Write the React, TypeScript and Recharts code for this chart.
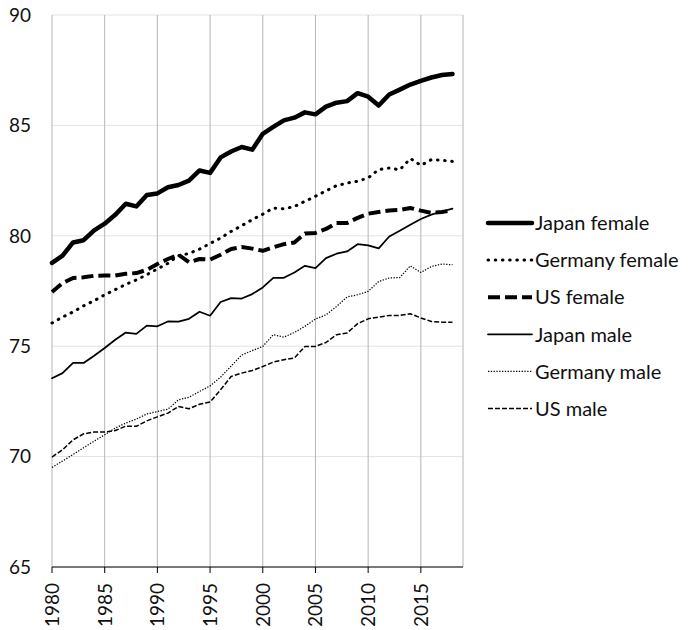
import React from 'react';
import { LineChart, Line, XAxis, YAxis, CartesianGrid } from 'recharts';

// Life expectancy at birth, 1980-2018
const years = [
  1980, 1981, 1982, 1983, 1984, 1985, 1986, 1987, 1988, 1989,
  1990, 1991, 1992, 1993, 1994, 1995, 1996, 1997, 1998, 1999,
  2000, 2001, 2002, 2003, 2004, 2005, 2006, 2007, 2008, 2009,
  2010, 2011, 2012, 2013, 2014, 2015, 2016, 2017, 2018,
];

const japanFemale = [
  78.77, 79.1, 79.7, 79.8, 80.25, 80.55, 80.95, 81.45, 81.33, 81.85,
  81.92, 82.2, 82.3, 82.5, 82.96, 82.85, 83.55, 83.82, 84.02, 83.9,
  84.62, 84.93, 85.23, 85.35, 85.59, 85.5, 85.85, 86.03, 86.1, 86.46,
  86.3, 85.9, 86.4, 86.62, 86.85, 87.02, 87.17, 87.28, 87.33,
];

const germanyFemale = [
  76.05, 76.32, 76.55, 76.83, 77.06, 77.33, 77.56, 77.8, 78.0, 78.24,
  78.5, 78.75, 79.1, 79.2, 79.4, 79.65, 79.9, 80.2, 80.46, 80.73,
  80.98, 81.26, 81.22, 81.33, 81.56, 81.79, 82.04, 82.27, 82.39, 82.47,
  82.62, 83.0, 83.07, 82.99, 83.5, 83.19, 83.45, 83.42, 83.37,
];

const usFemale = [
  77.45, 77.86, 78.09, 78.12, 78.19, 78.2, 78.2, 78.28, 78.31, 78.46,
  78.72, 78.95, 79.14, 78.8, 78.95, 78.92, 79.14, 79.4, 79.49, 79.42,
  79.32, 79.48, 79.62, 79.7, 80.1, 80.13, 80.31, 80.58, 80.58, 80.81,
  81.0, 81.08, 81.15, 81.17, 81.26, 81.14, 81.04, 81.08, 81.15,
];

const japanMale = [
  73.55, 73.78, 74.24, 74.24, 74.57, 74.92, 75.29, 75.62, 75.56, 75.93,
  75.9, 76.12, 76.11, 76.24, 76.56, 76.38, 77.0, 77.18, 77.16, 77.36,
  77.66, 78.09, 78.1, 78.34, 78.64, 78.54, 78.99, 79.19, 79.29, 79.62,
  79.57, 79.43, 79.97, 80.23, 80.5, 80.76, 80.96, 81.1, 81.23,
];

const germanyMale = [
  69.51, 69.8, 70.1, 70.4, 70.7, 70.99, 71.29, 71.52, 71.7, 71.93,
  72.04, 72.15, 72.57, 72.69, 72.95, 73.2, 73.6, 74.1, 74.6, 74.8,
  74.99, 75.52, 75.41, 75.62, 75.9, 76.23, 76.42, 76.8, 77.23, 77.33,
  77.48, 77.93, 78.09, 78.11, 78.64, 78.34, 78.61, 78.72, 78.69,
];

const usMale = [
  69.98, 70.31, 70.76, 71.03, 71.11, 71.11, 71.18, 71.38, 71.37, 71.62,
  71.8, 71.97, 72.27, 72.17, 72.37, 72.47, 73.03, 73.63, 73.78, 73.9,
  74.08, 74.28, 74.39, 74.46, 74.99, 74.99, 75.17, 75.52, 75.6, 76.02,
  76.24, 76.32, 76.39, 76.39, 76.47, 76.28, 76.12, 76.09, 76.09,
];

const xTicks = [1980, 1985, 1990, 1995, 2000, 2005, 2010, 2015];
const yTicks = [65, 70, 75, 80, 85, 90];

const data = years.map((year, i) => ({
  year,
  japanFemale: japanFemale[i],
  germanyFemale: germanyFemale[i],
  usFemale: usFemale[i],
  japanMale: japanMale[i],
  germanyMale: germanyMale[i],
  usMale: usMale[i],
}));

const FONT = 'Lato, "Open Sans", sans-serif';

// line styles shared by the plot and the legend
const series = [
  { key: 'japanFemale', name: 'Japan female', width: 4.5, dash: undefined, cap: 'round' },
  { key: 'germanyFemale', name: 'Germany female', width: 3, dash: '0.6 6.6', cap: 'round' },
  { key: 'usFemale', name: 'US female', width: 4, dash: '12 5', cap: 'butt' },
  { key: 'japanMale', name: 'Japan male', width: 1.75, dash: undefined, cap: 'round' },
  { key: 'germanyMale', name: 'Germany male', width: 1.25, dash: '1.3 1.5', cap: 'butt' },
  { key: 'usMale', name: 'US male', width: 1.5, dash: '5 2', cap: 'butt' },
];

const YearTick = ({ x, y, payload }: any) => (
  <text
    x={x}
    y={y}
    transform={`rotate(-90, ${x}, ${y})`}
    textAnchor="end"
    dy="0.36em"
    fontSize={19}
    fontFamily={FONT}
    fill="#111"
  >
    {payload.value}
  </text>
);

export default function App() {
  // pulled up over the body margin so the "90" label is not clipped
  return (
    <div style={{ position: 'relative', width: 680, height: 630, marginTop: -8 }}>
      <LineChart
        width={680}
        height={630}
        data={data}
        margin={{ top: 15, right: 225, left: 0, bottom: 0 }}
      >
        <CartesianGrid vertical={false} stroke="#e3e3e3" strokeWidth={1} />
        <CartesianGrid horizontal={false} stroke="#b5b5b5" strokeWidth={1} />
        <XAxis
          dataKey="year"
          type="number"
          domain={[1980, 2019]}
          ticks={xTicks}
          interval={0}
          height={63}
          tickSize={6}
          tickMargin={10}
          axisLine={{ stroke: '#000' }}
          tickLine={{ stroke: '#000' }}
          tick={<YearTick />}
        />
        <YAxis
          domain={[65, 90]}
          ticks={yTicks}
          interval={0}
          width={44}
          axisLine={false}
          tickLine={false}
          tickSize={0}
          tickMargin={21}
          tick={{ fontSize: 19, fontFamily: FONT, fill: '#111' }}
        />
        {series.map((s) => (
          <Line
            key={s.key}
            type="linear"
            dataKey={s.key}
            name={s.name}
            stroke="#000"
            strokeWidth={s.width}
            strokeDasharray={s.dash}
            strokeLinecap={s.cap as any}
            strokeLinejoin="round"
            dot={false}
            activeDot={false}
            isAnimationActive={false}
          />
        ))}
      </LineChart>

      {/* legend on the right, outside the plot */}
      <svg
        width={200}
        height={260}
        style={{ position: 'absolute', left: 476, top: 198 }}
      >
        {series.map((s, i) => {
          const cy = 25 + i * 37.1;
          return (
            <g key={s.key}>
              <line
                x1={4}
                x2={48}
                y1={cy}
                y2={cy}
                stroke="#000"
                strokeWidth={s.width}
                strokeDasharray={s.dash}
                strokeLinecap={s.cap as any}
              />
              <text
                x={51}
                y={cy}
                dy="0.36em"
                fontSize={20}
                fontFamily={FONT}
                fill="#111"
              >
                {s.name}
              </text>
            </g>
          );
        })}
      </svg>
    </div>
  );
}
